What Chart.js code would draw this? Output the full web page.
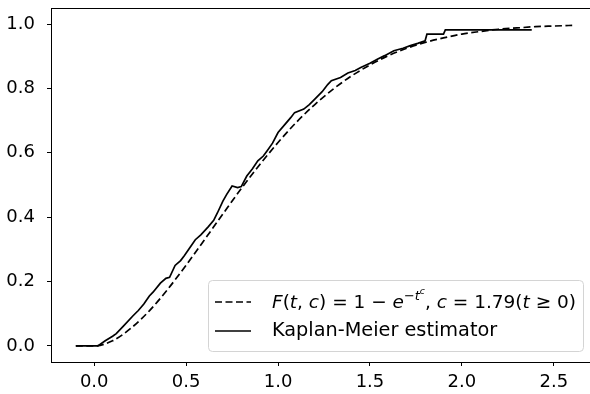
<!DOCTYPE html>
<html>
<head>
<meta charset="utf-8">
<script src="https://cdn.jsdelivr.net/npm/chart.js@4.4.0/dist/chart.umd.min.js"></script>
<style>
  html, body { margin: 0; padding: 0; background: #fff; overflow: hidden; }
  #wrap { width: 590px; height: 394px; overflow: hidden; }
</style>
</head>
<body>
<div id="wrap"><canvas id="cdfChart" width="600" height="394"></canvas></div>
<script>
// fitted Weibull CDF
var weibullT = [-0.1, 0.0, 0.1, 0.2, 0.3, 0.4, 0.5, 0.6, 0.7, 0.8, 0.9, 1.0, 1.1, 1.2, 1.3,
                1.4, 1.5, 1.6, 1.7, 1.8, 1.9, 2.0, 2.1, 2.2, 2.3, 2.4, 2.5, 2.6];
var weibullF = [0.0, 0.0, 0.016, 0.055, 0.109, 0.176, 0.251, 0.330, 0.410, 0.489, 0.563, 0.632, 0.695, 0.750, 0.798,
                0.839, 0.873, 0.902, 0.925, 0.943, 0.957, 0.969, 0.977, 0.984, 0.988, 0.992, 0.994, 0.996];

// Kaplan-Meier estimate (solid line)
var kmT = [-0.10, 0.02, 0.06, 0.10, 0.12, 0.16, 0.21, 0.24, 0.27, 0.30, 0.32, 0.36, 0.39, 0.41, 0.44,
           0.47, 0.49, 0.52, 0.55, 0.58, 0.62, 0.65, 0.67, 0.70, 0.72, 0.75, 0.78, 0.80, 0.83, 0.86,
           0.89, 0.92, 0.94, 0.97, 1.00, 1.04, 1.07, 1.09, 1.14, 1.17, 1.20, 1.24, 1.27, 1.29, 1.34,
           1.38, 1.42, 1.45, 1.50, 1.54, 1.58, 1.63, 1.68, 1.72, 1.76, 1.80, 1.81, 1.90, 1.91, 2.38];
var kmF = [0.0, 0.0, 0.016, 0.030, 0.038, 0.062, 0.093, 0.110, 0.130, 0.155, 0.167, 0.195, 0.210, 0.213, 0.250,
           0.265, 0.280, 0.305, 0.330, 0.345, 0.370, 0.390, 0.413, 0.450, 0.470, 0.497, 0.492, 0.495, 0.528, 0.550,
           0.575, 0.590, 0.606, 0.630, 0.663, 0.690, 0.710, 0.725, 0.736, 0.750, 0.767, 0.790, 0.812, 0.824, 0.834,
           0.848, 0.856, 0.865, 0.878, 0.891, 0.902, 0.917, 0.925, 0.933, 0.940, 0.948, 0.969, 0.969, 0.982, 0.982];

var xTicks = [0.0, 0.5, 1.0, 1.5, 2.0, 2.5];
var yTicks = [0.0, 0.2, 0.4, 0.6, 0.8, 1.0];

var FONT = '"DejaVu Sans", sans-serif';

function toPoints(xs, ys) {
  var pts = [];
  for (var i = 0; i < xs.length; i++) pts.push({ x: xs[i], y: ys[i] });
  return pts;
}

// F(t,c) = 1 - e^{-t^c}, c = 1.79(t >= 0)  -- drawn piece by piece like mathtext
function drawMath(ctx, x, yMid, size) {
  var parts = [
    ['F', 1, 0, 1], ['(', 1, 0], ['t', 1, 0, 1], [', ', 1, 0], ['c', 1, 0, 1], [')', 1, 0],
    [' = 1 \u2212 ', 1, 0], ['e', 1, 0, 1],
    ['\u2212', 0.7, 0.42], ['t', 0.7, 0.42, 1], ['c', 0.5, 0.75, 1],
    [', ', 1, 0], ['c', 1, 0, 1], [' = 1.79', 1, 0], ['(', 1, 0], ['t', 1, 0, 1], [' \u2265 0)', 1, 0]
  ];
  var base = yMid + size * 0.36;
  ctx.textBaseline = 'alphabetic';
  ctx.textAlign = 'left';
  for (var i = 0; i < parts.length; i++) {
    var p = parts[i];
    var fs = size * p[1];
    ctx.font = (p[3] ? 'oblique ' : '') + fs + 'px ' + FONT;
    ctx.fillText(p[0], x, base - size * p[2]);
    x += ctx.measureText(p[0]).width;
  }
}

var frameBox = {
  id: 'frameBox',
  afterDraw: function(chart) {
    var a = chart.chartArea, ctx = chart.ctx;
    ctx.save();
    ctx.strokeStyle = '#000';
    ctx.lineWidth = 1;
    ctx.strokeRect(Math.round(a.left) + 0.5, Math.round(a.top) + 0.5,
                   Math.round(a.right - a.left), Math.round(a.bottom - a.top));
    ctx.restore();
  }
};

var legendBox = {
  id: 'legendBox',
  afterDraw: function(chart) {
    var ctx = chart.ctx;
    ctx.save();
    var bx = 208.5, by = 280.5, bw = 375, bh = 71, r = 4;
    ctx.beginPath();
    ctx.moveTo(bx + r, by);
    ctx.arcTo(bx + bw, by, bx + bw, by + bh, r);
    ctx.arcTo(bx + bw, by + bh, bx, by + bh, r);
    ctx.arcTo(bx, by + bh, bx, by, r);
    ctx.arcTo(bx, by, bx + bw, by, r);
    ctx.closePath();
    ctx.fillStyle = 'rgba(255,255,255,0.85)';
    ctx.fill();
    ctx.strokeStyle = '#d4d4d4';
    ctx.lineWidth = 1;
    ctx.stroke();

    ctx.strokeStyle = '#000';
    ctx.lineWidth = 1.7;
    ctx.setLineDash([7, 3.5]);
    ctx.beginPath(); ctx.moveTo(215, 302); ctx.lineTo(251, 302); ctx.stroke();
    ctx.setLineDash([]);
    ctx.beginPath(); ctx.moveTo(215, 331); ctx.lineTo(251, 331); ctx.stroke();

    ctx.fillStyle = '#000';
    drawMath(ctx, 272, 301, 18.5);
    ctx.font = '19.3px ' + FONT;
    ctx.textBaseline = 'middle';
    ctx.fillText('Kaplan-Meier estimator', 272, 331);
    ctx.restore();
  }
};

var ctx = document.getElementById('cdfChart').getContext('2d');
var cdfChart = new Chart(ctx, {
  type: 'line',
  data: {
    datasets: [{
      label: 'F(t,c) = 1 - e^(-t^c), c = 1.79 (t >= 0)',
      data: toPoints(weibullT, weibullF),
      borderColor: '#000',
      borderWidth: 1.7,
      borderDash: [7, 3.5],
      cubicInterpolationMode: 'monotone',
      pointRadius: 0,
      fill: false
    }, {
      label: 'Kaplan-Meier estimator',
      data: toPoints(kmT, kmF),
      borderColor: '#000',
      borderWidth: 1.7,
      pointRadius: 0,
      tension: 0,
      fill: false
    }]
  },
  options: {
    responsive: false,
    animation: false,
    devicePixelRatio: 1,
    layout: { padding: { top: 8, right: 3, left: 0, bottom: 0 } },
    plugins: { legend: { display: false }, tooltip: { enabled: false } },
    scales: {
      x: {
        type: 'linear',
        min: -0.235,
        max: 2.735,
        afterBuildTicks: function(s) { s.ticks = xTicks.map(function(v) { return { value: v }; }); },
        afterFit: function(s) { s.height = 32; s.paddingLeft = 0; s.paddingRight = 0; },
        ticks: {
          color: '#000', padding: 6, maxRotation: 0, autoSkip: false,
          font: { family: FONT, size: 18 },
          callback: function(v) { return v.toFixed(1); }
        },
        grid: { drawOnChartArea: false, drawTicks: true, tickLength: 4, color: '#000', tickColor: '#000' },
        border: { display: true, color: '#000', width: 1 }
      },
      y: {
        min: -0.05,
        max: 1.05,
        afterBuildTicks: function(s) { s.ticks = yTicks.map(function(v) { return { value: v }; }); },
        afterFit: function(s) { s.width = 51; s.paddingTop = 0; s.paddingBottom = 0; },
        ticks: {
          color: '#000', padding: 12, autoSkip: false,
          font: { family: FONT, size: 18 },
          callback: function(v) { return v.toFixed(1); }
        },
        grid: { drawOnChartArea: false, drawTicks: true, tickLength: 4, color: '#000', tickColor: '#000' },
        border: { display: true, color: '#000', width: 1 }
      }
    }
  },
  plugins: [frameBox, legendBox]
});
</script>
</body>
</html>
